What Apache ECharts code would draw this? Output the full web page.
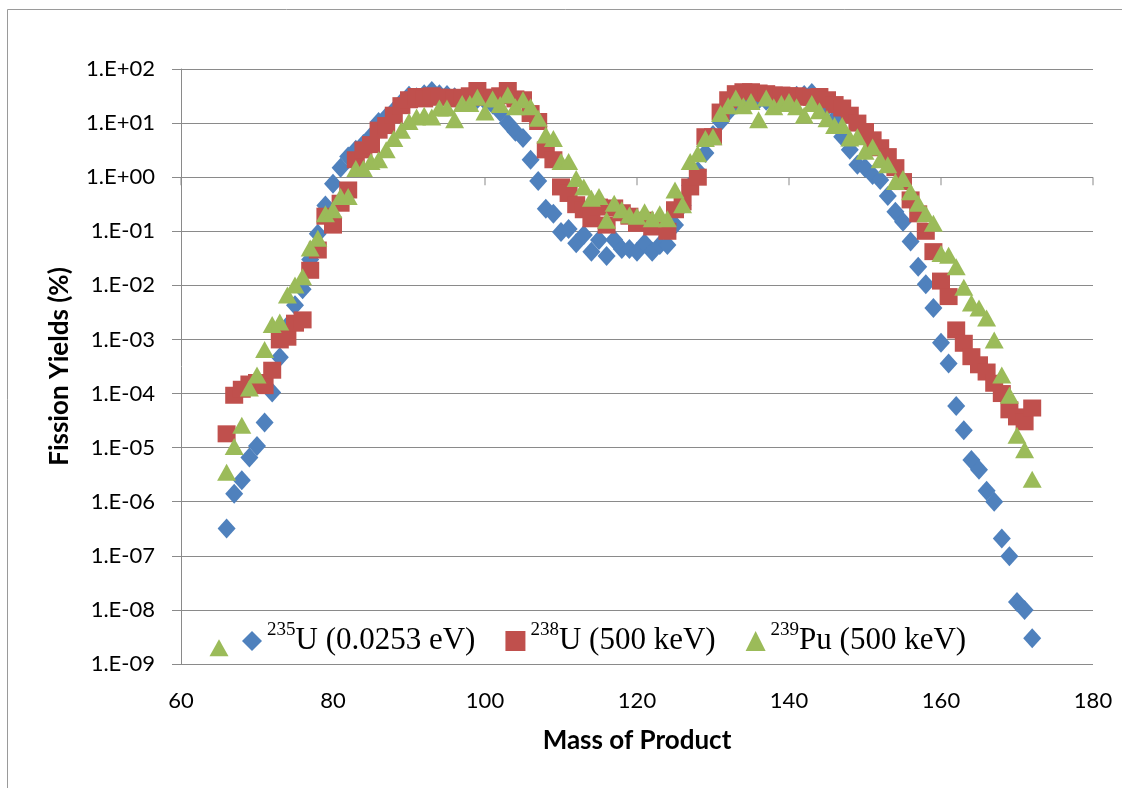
<!DOCTYPE html>
<html>
<head>
<meta charset="utf-8">
<script src="https://cdn.jsdelivr.net/npm/echarts@6/dist/echarts.min.js"></script>
<style>
html,body{margin:0;padding:0;background:#fff;}
#chart{width:1122px;height:788px;}
</style>
</head>
<body>
<div id="chart"></div>
<script>
// Mass numbers (x categories)
const massU = [66,67,68,69,70,71,72,73,74,75,76,77,78,79,80,81,82,83,84,85,86,87,88,89,90,91,92,93,94,95,96,97,98,99,100,101,102,103,104,105,106,107,108,109,110,111,112,113,114,115,116,117,118,119,120,121,122,123,124,125,126,127,128,129,130,131,132,133,134,135,136,137,138,139,140,141,142,143,144,145,146,147,148,149,150,151,152,153,154,155,156,157,158,159,160,161,162,163,164,165,166,167,168,169,170,171,172];
const massPu = [65,66,67,68,69,70,71,72,73,74,75,76,77,78,79,80,81,82,83,84,85,86,87,88,89,90,91,92,93,94,95,96,97,98,99,100,101,102,103,104,105,106,107,108,109,110,111,112,113,114,115,116,117,118,119,120,121,122,123,124,125,126,127,128,129,130,131,132,133,134,135,136,137,138,139,140,141,142,143,144,145,146,147,148,149,150,151,152,153,154,155,156,157,158,159,160,161,162,163,164,165,166,167,168,169,170,171,172];

// 235U (0.0253 eV) yields (%)
const yieldU235 = [3.2e-7,1.4e-6,2.5e-6,6.6e-6,1.07e-5,2.9e-5,1.04e-4,4.7e-4,1.8e-3,4.3e-3,8.5e-3,0.03,0.09,0.3,0.76,1.5,2.4,3.2,4.1,5.7,10.5,13,17,24,32,30,34,39,34,33,30,28,26,28,26,22,16,10,6.9,5.3,2.1,0.85,0.26,0.21,0.097,0.11,0.06,0.085,0.042,0.069,0.035,0.07,0.047,0.047,0.042,0.06,0.042,0.056,0.056,0.13,0.3,0.7,1.3,2.8,6,10.6,16,22,26,28,27,26,28,30,30,32,33,36,28,20,12,5.6,3.2,1.7,1.5,1.1,0.89,0.45,0.23,0.15,0.065,0.022,0.0105,0.0038,8.7e-4,3.6e-4,5.9e-5,2.1e-5,5.9e-6,3.9e-6,1.6e-6,1.0e-6,2.1e-7,9.8e-8,1.4e-8,1.0e-8,3.0e-9];

// 238U (500 keV) yields (%)
const yieldU238 = [1.8e-5,9.3e-5,1.2e-4,1.5e-4,1.6e-4,1.4e-4,2.7e-4,9.8e-4,1.1e-3,2.0e-3,2.3e-3,0.019,0.045,0.19,0.13,0.33,0.58,2.1,3.2,4,7.4,9,14,21,27,31,28,32,30,30,28,30,32,40,30,30,32,40,28,27,15,10.7,3.2,2.1,0.66,0.5,0.31,0.25,0.17,0.28,0.13,0.27,0.22,0.19,0.14,0.16,0.12,0.14,0.10,0.25,0.35,0.66,1.0,5.6,5.6,16,27,35,38,38,36,35,33,33,32,32,30,30,31,27,22,19,14,10,7,4.9,3.5,2.4,1.5,0.83,0.38,0.21,0.1,0.042,0.012,0.0062,1.5e-3,8.5e-4,4.8e-4,3.4e-4,2.5e-4,1.55e-4,1.0e-4,5e-5,3.7e-5,3e-5,5.4e-5];

// 239Pu (500 keV) yields (%)
const yieldPu239 = [2e-9,3.5e-6,1.05e-5,2.6e-5,1.26e-4,2.2e-4,6.5e-4,1.9e-3,2.1e-3,6.6e-3,0.0102,0.0145,0.049,0.074,0.21,0.25,0.44,0.44,1.45,1.45,1.95,2.1,3.2,5.2,7.4,10.7,13,14,13,19,19,11.5,23,23,30,16,28,22,33,20,27,20,12.3,6,5.2,1.95,1.95,0.95,0.66,0.41,0.44,0.16,0.33,0.25,0.2,0.19,0.23,0.17,0.21,0.17,0.58,0.31,1.95,2.7,5.2,5.6,15,21,29,21,25,11.5,29,20,23,25,20,14,23,17,12,9,9,5.3,5.6,3,3.6,2.1,1.7,0.83,0.95,0.54,0.33,0.21,0.14,0.039,0.036,0.022,0.0092,0.0047,0.0038,0.0025,9.8e-4,2.2e-4,9.3e-5,1.7e-5,9.1e-6,2.6e-6];

// x-axis tick positions (axis crosses at y = 1)
const xTickMass = [60,80,100,120,140,160,180];
// y-axis decades (log10 of yield), from 1.E-09 to 1.E+02
const yDecadeMin = -9;
const yDecadeMax = 2;

const legendNames = {
  'U235': '{sup|235}{txt|U (0.0253 eV)}',
  'U238': '{sup|238}{txt|U (500 keV)}',
  'Pu239': '{sup|239}{txt|Pu (500 keV)}'
};

// log10 transform so the value axis acts as a decade (log) scale
const zipLog = (xs, ys) => xs.map((x, i) => [x, Math.log10(ys[i]), ys[i]]);
const gridColor = '#8a8a8a';

const chart = echarts.init(document.getElementById('chart'), null, {renderer: 'canvas'});
chart.setOption({
  animation: false,
  backgroundColor: '#ffffff',
  graphic: [{
    type: 'rect', silent: true, z: -10,
    shape: {x: 7.5, y: 9.5, width: 1200, height: 900},
    style: {fill: 'none', stroke: '#9a9a9a', lineWidth: 1}
  }],
  grid: {left: 181, right: 29, top: 69, bottom: 124, containLabel: false},
  xAxis: {
    type: 'value', min: 60, max: 180, interval: 20,
    axisLine: {show: false},
    axisTick: {show: false},
    splitLine: {show: false},
    axisLabel: {margin: 26, fontFamily: 'Lato', fontSize: 22, color: '#000'},
    name: 'Mass of Product', nameLocation: 'middle', nameGap: 64,
    nameTextStyle: {fontFamily: 'Lato', fontWeight: 'bold', fontSize: 26, color: '#000'}
  },
  yAxis: {
    type: 'value', min: yDecadeMin, max: yDecadeMax, interval: 1,
    axisLine: {show: true, lineStyle: {color: gridColor, width: 1}},
    axisTick: {show: true, length: 9, lineStyle: {color: gridColor}},
    splitLine: {show: true, lineStyle: {color: gridColor, width: 1}},
    axisLabel: {
      margin: 26, fontFamily: 'Lato', fontSize: 22, color: '#000',
      formatter: function (e) {
        const a = Math.abs(e);
        return '1.E' + (e >= 0 ? '+' : '-') + (a < 10 ? '0' + a : '' + a);
      }
    },
    name: 'Fission Yields (%)', nameLocation: 'middle', nameGap: 108,
    nameTextStyle: {fontFamily: 'Lato', fontWeight: 'bold', fontSize: 26, color: '#000'}
  },
  legend: {
    data: ['U235', 'U238', 'Pu239'],
    left: 237, top: 616,
    orient: 'horizontal',
    itemGap: 30, itemWidth: 20, itemHeight: 20,
    selectedMode: false,
    formatter: function (name) { return legendNames[name]; },
    textStyle: {
      color: '#000',
      rich: {
        sup: {fontFamily: 'Liberation Serif', fontSize: 19, color: '#000', verticalAlign: 'top', lineHeight: 19},
        txt: {fontFamily: 'Liberation Serif', fontSize: 31, color: '#000', lineHeight: 40}
      }
    }
  },
  series: [
    {
      name: 'xticks', type: 'scatter', silent: true, z: 1,
      data: xTickMass.map(x => [x, 0]),
      symbol: 'rect', symbolSize: [1, 8], symbolOffset: [0, 4],
      itemStyle: {color: gridColor, opacity: 1}
    },
    {
      name: 'U235', type: 'scatter', z: 2,
      data: zipLog(massU, yieldU235),
      symbol: 'diamond', symbolSize: [18, 20],
      itemStyle: {color: '#4F81BD', opacity: 1}
    },
    {
      name: 'U238', type: 'scatter', z: 3,
      data: zipLog(massU, yieldU238),
      symbol: 'rect', symbolSize: [18, 17],
      itemStyle: {color: '#C0504D', opacity: 1}
    },
    {
      name: 'Pu239', type: 'scatter', z: 4,
      data: zipLog(massPu, yieldPu239),
      symbol: 'triangle', symbolSize: [19, 17],
      itemStyle: {color: '#9BBB59', opacity: 1}
    }
  ]
});
</script>
</body>
</html>
